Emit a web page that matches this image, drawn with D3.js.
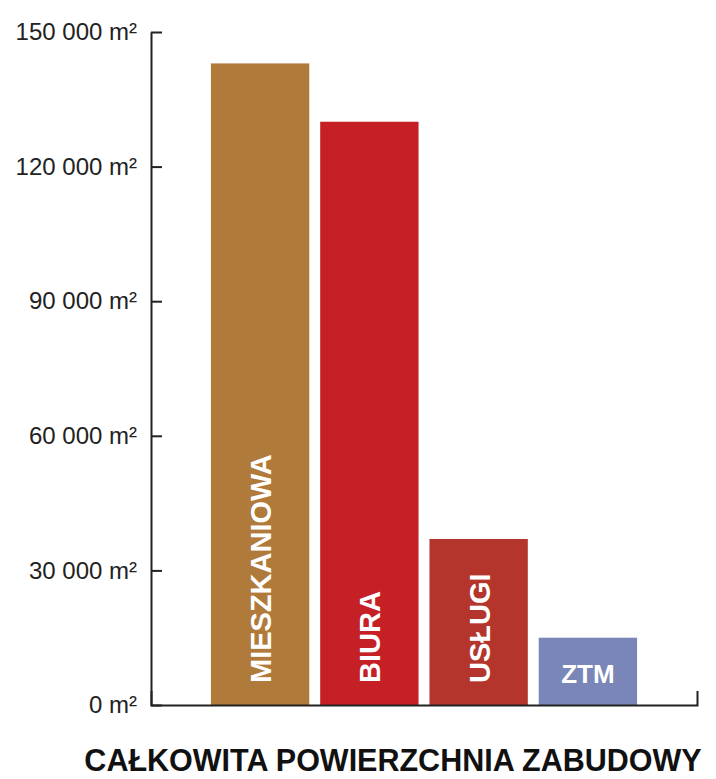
<!DOCTYPE html>
<html>
<head>
<meta charset="utf-8">
<script src="https://cdn.jsdelivr.net/npm/d3@7"></script>
<style>
  body { margin: 0; background: #fff; }
  text { font-family: "Liberation Sans", Arial, sans-serif; }
</style>
</head>
<body>
<script>
// data
const categories = ["MIESZKANIOWA", "BIURA", "USŁUGI", "ZTM"];
const values = [143000, 130000, 37000, 15000];
const colors = ["#B07A3B", "#C62027", "#B3352B", "#7A86B8"];
const tickValues = [0, 30000, 60000, 90000, 120000, 150000];
const tickLabels = ["0 m²", "30 000 m²", "60 000 m²", "90 000 m²", "120 000 m²", "150 000 m²"];
const title = "CAŁKOWITA POWIERZCHNIA ZABUDOWY";

const W = 716, H = 779;

const svg = d3.select("body").append("svg")
    .attr("width", W)
    .attr("height", H);

//scales
const y = d3.scaleLinear().domain([0, 150000]).range([705, 32]);
const x = d3.scaleBand().domain(categories).range([200, 648])
    .paddingInner(0.1).paddingOuter(0.1);
const xLine = d3.scaleLinear().domain([0, 1]).range([151, 697]);

//bars
const bars_g = svg.append("g").attr("class", "bars_g");
bars_g.selectAll("rect")
    .data(categories)
    .join("rect")
    .attr("x", d => x(d))
    .attr("width", x.bandwidth())
    .attr("y", (d, i) => y(values[i]))
    .attr("height", (d, i) => y(0) - y(values[i]))
    .attr("fill", (d, i) => colors[i]);

//labels inside bars (rotated, except the short one)
const labels_g = svg.append("g").attr("class", "labels_g");
labels_g.selectAll("text")
    .data(categories)
    .join("text")
    .attr("fill", "#fff")
    .attr("font-weight", "bold")
    .attr("font-size", (d, i) => i === 3 ? 26 : 29)
    .attr("dominant-baseline", (d, i) => i === 3 ? "auto" : "central")
    .attr("text-anchor", (d, i) => i === 3 ? "middle" : "start")
    .attr("transform", (d, i) => {
        const cx = x(d) + x.bandwidth() / 2;
        if (i === 3) return `translate(${cx},${y(0) - 22})`;
        return `translate(${cx + 1},${y(0) - 22}) rotate(-90)`;
    })
    .text(d => d);

//y axis
const yAxis = d3.axisLeft(y)
    .tickValues(tickValues)
    .tickFormat((d, i) => tickLabels[i])
    .tickSizeInner(-11)
    .tickSizeOuter(0)
    .tickPadding(14);

const y_g = svg.append("g").attr("transform", "translate(151,0)").call(yAxis);
y_g.select(".domain").attr("stroke", "#222").attr("stroke-width", 2);
y_g.selectAll(".tick line").attr("stroke", "#222").attr("stroke-width", 2);
y_g.selectAll(".tick text")
    .attr("font-size", 24)
    .attr("fill", "#222")
    .attr("font-family", "'Liberation Sans', Arial, sans-serif");

//x axis line with up-tick at the right end
const xAxis = d3.axisBottom(xLine).tickValues([]).tickSizeOuter(-14);
const x_g = svg.append("g").attr("transform", `translate(0,${y(0)})`).call(xAxis);
x_g.select(".domain").attr("stroke", "#222").attr("stroke-width", 2).attr("fill", "none");

//title
svg.append("text")
    .attr("x", 393)
    .attr("y", 771)
    .attr("text-anchor", "middle")
    .attr("font-weight", "bold")
    .attr("font-size", 30.5)
    .attr("fill", "#111")
    .text(title);
</script>
</body>
</html>
